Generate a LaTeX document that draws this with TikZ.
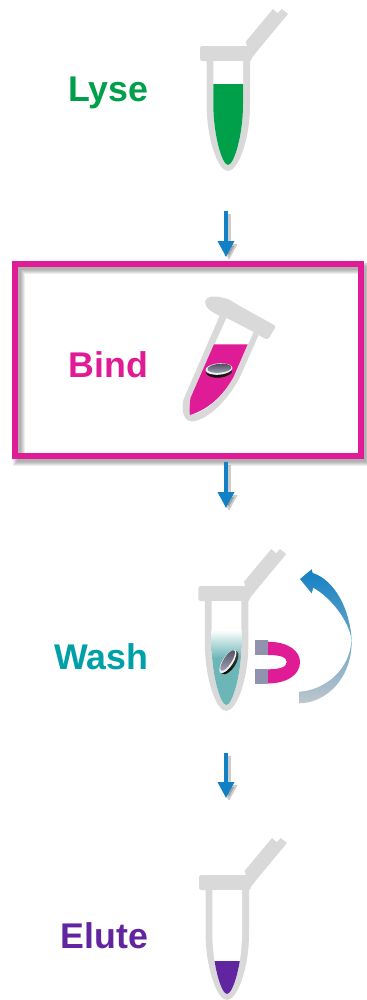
\documentclass[tikz,border=0pt]{standalone}
\usepackage{fontspec}
\setmainfont{Liberation Sans}
\usetikzlibrary{arrows.meta}
\definecolor{tubegray}{RGB}{217,217,217}
\definecolor{lysegreen}{RGB}{0,160,75}
\definecolor{bindpink}{RGB}{224,27,150}
\definecolor{washteal}{RGB}{0,160,168}
\definecolor{washfill}{RGB}{108,182,183}
\definecolor{elutepurple}{RGB}{97,37,160}
\definecolor{flowblue}{RGB}{18,128,196}
\definecolor{flowgray}{RGB}{190,198,204}
\definecolor{polegray}{RGB}{145,147,174}
\tikzset{
  steplabel/.style={anchor=base east,inner sep=0pt,font=\fontsize{30.5}{36}\selectfont\bfseries},
  flowarrow/.style={-{Triangle[length=0.48cm,width=0.48cm]},line width=0.105cm,flowblue},
  flowshadow/.style={-{Triangle[length=0.48cm,width=0.48cm]},line width=0.13cm,black,opacity=0.2}
}
% upright tube, liquid comes in as code
\newcommand{\drawtube}[2]{
  \begin{scope}[shift={(#1)}]
    \fill[tubegray] (245.7,41.7) -- (273,9) -- (277.7,13.3) -- (281.7,9) -- (288,14) -- (258,50) -- (251,59) -- (248,50) -- cycle;
    \fill[tubegray,rounded corners=2pt] (200,46) rectangle (251.7,61);
    \fill[tubegray] (206.5,60) -- (206.5,105) .. controls (207,140) and (218,171) .. (228,171) .. controls (238,171) and (250,140) .. (250,105) -- (250,60) -- cycle;
    \fill[white] (213.3,61) -- (213.3,105) .. controls (213.5,135) and (222,165) .. (228,165) .. controls (234,165) and (243,135) .. (243,105) -- (243,61) -- cycle;
    \begin{scope}
      \clip (213.3,61) -- (213.3,105) .. controls (213.5,135) and (222,165) .. (228,165) .. controls (234,165) and (243,135) .. (243,105) -- (243,61) -- cycle;
      #2
    \end{scope}
  \end{scope}
}
% disc of beads
\newcommand{\drawbead}[3]{
  \begin{scope}[shift={(#1)},rotate=#2]
    \shade[top color=black!70,bottom color=black] (0,1.6) ellipse[x radius=13.5,y radius=#3];
    \fill[white!94!black] (0,-0.5) ellipse[x radius=13.5,y radius=#3-0.8];
    \shade[top color=polegray!55!black,bottom color=polegray!85!white] (0.6,-1.2) ellipse[x radius=12,y radius=#3-2];
  \end{scope}
}
\begin{document}
\begin{tikzpicture}[x=0.03cm,y=-0.03cm]
  \useasboundingbox (0,0) rectangle (367,1000);

  % Lyse
  \node[steplabel,text=lysegreen] (lyse) at (148.5,101) {Lyse};
  \drawtube{0,0}{\fill[lysegreen] (205,84) rectangle (250,172);}

  % Bind box
  \foreach \w in {0.1,0.16,0.22,0.28,0.34}
    \draw[black,opacity=0.07,line width=\w cm] (19,268) rectangle (364,460);
  \node[draw=bindpink,line width=0.18cm,fill=none,minimum width=10.35cm,minimum height=5.76cm,inner sep=0pt,outer sep=0pt] (bindbox) at (188,359.7) {};
  \node[steplabel,text=bindpink] (bind) at (148.5,377) {Bind};

  % tilted tube
  \fill[tubegray] (205,301.7) .. controls (206,297) and (212,295) .. (223,297.7) .. controls (230,299) and (233,302) .. (238,305) -- (274,325) .. controls (275.5,326) and (275.5,327) .. (275,328) -- (269,338) .. controls (268,339.5) and (267,339.5) .. (265,338.5) -- (225,318) .. controls (212,313) and (205,308) .. (205,301.7) -- cycle;
  \fill[tubegray] (220,315) -- (183.3,400) .. controls (181,412) and (184,421) .. (192,421.5) .. controls (208,420) and (228,400) .. (240,377) -- (259,334) -- cycle;
  \fill[white] (226.5,318) -- (190.5,398) .. controls (188,408) and (190,414) .. (195,414) .. controls (212,408) and (225,392) .. (233.5,377) -- (253.5,332) -- cycle;
  \fill[bindpink] (214,344.3) -- (247.7,344.3) -- (233.5,377) .. controls (225,392) and (212,408) .. (190,415) .. controls (189,410) and (189.5,404) .. (190.5,398) -- cycle;
  \drawbead{219,369.5}{5}{6.5}

  % Wash
  \node[steplabel,text=washteal] (wash) at (148.5,669) {Wash};
  \drawtube{-1.7,540}{\shade[top color=white,bottom color=washfill] (205,90) rectangle (255,118);
    \fill[washfill] (205,117.5) rectangle (255,175);}
  \drawbead{228.3,661.7}{57}{6}

  % magnet
  \fill[bindpink] (268,641.7) .. controls (290,642) and (300,652) .. (300,662) .. controls (300,673) and (290,683) .. (268,683.5) -- (268,669.3) .. controls (280,669.3) and (286.7,667) .. (286.7,662) .. controls (286.7,657) and (280,655) .. (268,655) -- cycle;
  \fill[polegray] (255,640) rectangle (268,654.7);
  \fill[polegray] (255,669) rectangle (268,683.7);

  % return arrow
  \shade[top color=flowblue,middle color=flowblue,bottom color=flowgray] (300,579) -- (311.7,569.3) -- (312.7,573) .. controls (335,580) and (350,610) .. (351.7,640) .. controls (352,680) and (325,703) .. (299.3,703.3) -- (299.3,691.7) .. controls (325,690) and (350,670) .. (351.5,640) .. controls (349,620) and (330,597) .. (313.3,587.7) -- (311.7,593.3) -- cycle;

  % Elute
  \node[steplabel,text=elutepurple] (elute) at (148.5,948) {Elute};
  \drawtube{-1,829}{\fill[elutepurple] (205,132) rectangle (255,172);}

  % flow arrows
  \coordinate (lyseout) at (226,211);
  \coordinate (bindin) at (226,257);
  \coordinate (bindout) at (226,462);
  \coordinate (washin) at (226,508);
  \coordinate (washout) at (226,753);
  \coordinate (elutein) at (226,798);
  \foreach \a/\b in {lyseout/bindin,bindout/washin,washout/elutein} {
    \draw[flowshadow] ([xshift=0.09cm,yshift=-0.09cm]\a) -- ([xshift=0.09cm,yshift=-0.09cm]\b);
    \draw[flowarrow] (\a) -- (\b);
  }
\end{tikzpicture}
\end{document}
